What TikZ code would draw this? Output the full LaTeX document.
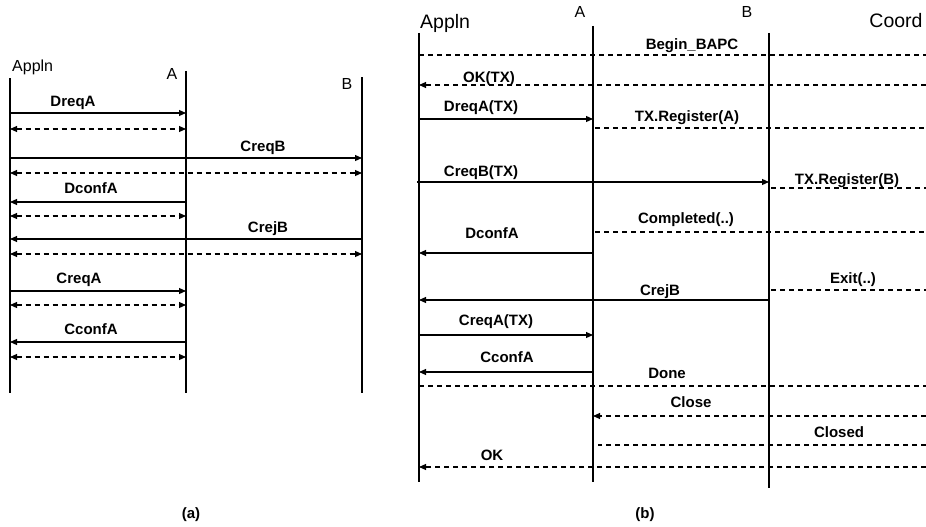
\documentclass[tikz,border=0pt]{standalone}
\usepackage{fontspec}
\setmainfont{Liberation Sans}
\usetikzlibrary{arrows.meta}
\begin{document}
\begin{tikzpicture}[x=1pt,y=-1pt,
  life/.style={line width=1.1pt},
  tip/.tip={Triangle[length=7pt,width=6pt]},
  msg/.style={line width=1.1pt,-tip},
  dsh/.style={line width=1.1pt,dash pattern=on 5pt off 4pt},
  dmsg/.style={dsh,-tip},
  both/.style={dsh,tip-tip},
  lbl/.style={font=\fontsize{15}{18}\selectfont\bfseries,inner sep=0pt,anchor=base},
  hdr/.style={font=\fontsize{16}{19}\selectfont,inner sep=0pt,anchor=base},
  bighdr/.style={font=\fontsize{19.5}{23}\selectfont,inner sep=0pt,anchor=base}]
\useasboundingbox (0,0) rectangle (926,527);

% ---------------- (a) direct calls ----------------
\coordinate (aApp) at (10,78);  \coordinate (aAppE) at (10,393);
\coordinate (aA)   at (186,71); \coordinate (aAE)   at (186,393);
\coordinate (aB)   at (362,77); \coordinate (aBE)   at (362,393);
\draw[life] (aApp) -- (aAppE);
\draw[life] (aA) -- (aAE);
\draw[life] (aB) -- (aBE);
\node[hdr,anchor=base west] (haApp) at (12,71) {Appln};
\node[hdr] (haA) at (172,79) {A};
\node[hdr] (haB) at (347,89) {B};

\draw[msg]  (aApp |- 0,113) -- (aA |- 0,113);
\node[lbl] (la1) at (73,106) {DreqA};
\draw[both] (aApp |- 0,129) -- (aA |- 0,129);
\draw[msg]  (aApp |- 0,158) -- (aB |- 0,158);
\node[lbl] (la2) at (263,151) {CreqB};
\draw[both] (aApp |- 0,173) -- (aB |- 0,173);
\draw[msg]  (aA |- 0,202) -- (aApp |- 0,202);
\node[lbl] (la3) at (91,193) {DconfA};
\draw[both] (aApp |- 0,216) -- (aA |- 0,216);
\draw[msg]  (aB |- 0,239) -- (aApp |- 0,239);
\node[lbl] (la4) at (268,232) {CrejB};
\draw[both] (aApp |- 0,254) -- (aB |- 0,254);
\draw[msg]  (aApp |- 0,291) -- (aA |- 0,291);
\node[lbl] (la5) at (79,283) {CreqA};
\draw[both] (aApp |- 0,305) -- (aA |- 0,305);
\draw[msg]  (aA |- 0,342) -- (aApp |- 0,342);
\node[lbl] (la6) at (91,334) {CconfA};
\draw[both] (aApp |- 0,357) -- (aA |- 0,357);

\node[lbl] (capa) at (191,518) {(a)};

% ---------------- (b) calls inside a BA transaction ----------------
\coordinate (bApp) at (419,33); \coordinate (bAppE) at (419,482);
\coordinate (bA)   at (593,26); \coordinate (bAE)   at (593,482);
\coordinate (bB)   at (769,33); \coordinate (bBE)   at (769,488);
\coordinate (edge) at (926,0);
\draw[life] (bApp) -- (bAppE);
\draw[life] (bA) -- (bAE);
\draw[life] (bB) -- (bBE);
\node[bighdr,anchor=base west] (hbApp) at (420,29) {Appln};
\node[hdr] (hbA) at (580,18) {A};
\node[hdr] (hbB) at (747,18) {B};
\node[bighdr] (hbC) at (896,28) {Coord};

\draw[dsh]  (bApp |- 0,55) -- (edge |- 0,55);
\node[lbl] (lb1) at (692,49) {Begin\_BAPC};
\draw[dmsg] (edge |- 0,85) -- (bApp |- 0,85);
\node[lbl] (lb2) at (489,82) {OK(TX)};
\draw[msg]  (bApp |- 0,119) -- (bA |- 0,119);
\node[lbl] (lb3) at (481,111) {DreqA(TX)};
\draw[dsh]  ([xshift=2pt]bA |- 0,128) -- (edge |- 0,128);
\node[lbl] (lb4) at (687,121) {TX.Register(A)};
\draw[msg]  ([xshift=-2pt]bApp |- 0,182) -- (bB |- 0,182);
\node[lbl] (lb5) at (481,176) {CreqB(TX)};
\draw[dsh]  ([xshift=2pt]bB |- 0,188) -- (edge |- 0,188);
\node[lbl] (lb6) at (847,184) {TX.Register(B)};
\draw[dsh]  ([xshift=2pt]bA |- 0,232) -- (edge |- 0,232);
\node[lbl] (lb7) at (686,223) {Completed(..)};
\draw[msg]  (bA |- 0,253) -- (bApp |- 0,253);
\node[lbl] (lb8) at (492,238) {DconfA};
\draw[dsh]  ([xshift=2pt]bB |- 0,290) -- (edge |- 0,290);
\node[lbl] (lb9) at (853,283) {Exit(..)};
\draw[msg]  (bB |- 0,300) -- (bApp |- 0,300);
\node[lbl] (lb10) at (660,295) {CrejB};
\draw[msg]  (bApp |- 0,335) -- (bA |- 0,335);
\node[lbl] (lb11) at (496,325) {CreqA(TX)};
\draw[msg]  (bA |- 0,372) -- (bApp |- 0,372);
\node[lbl] (lb12) at (507,362) {CconfA};
\draw[dsh]  (bApp |- 0,386) -- (edge |- 0,386);
\node[lbl] (lb13) at (667,378) {Done};
\draw[dmsg] (edge |- 0,416) -- (bA |- 0,416);
\node[lbl] (lb14) at (691,407) {Close};
\draw[dsh]  (edge |- 0,445) -- ([xshift=5pt]bA |- 0,445);
\node[lbl] (lb15) at (839,437) {Closed};
\draw[dmsg] (edge |- 0,467) -- (bApp |- 0,467);
\node[lbl] (lb16) at (492,460) {OK};

\node[lbl] (capb) at (645,518) {(b)};
\end{tikzpicture}
\end{document}
